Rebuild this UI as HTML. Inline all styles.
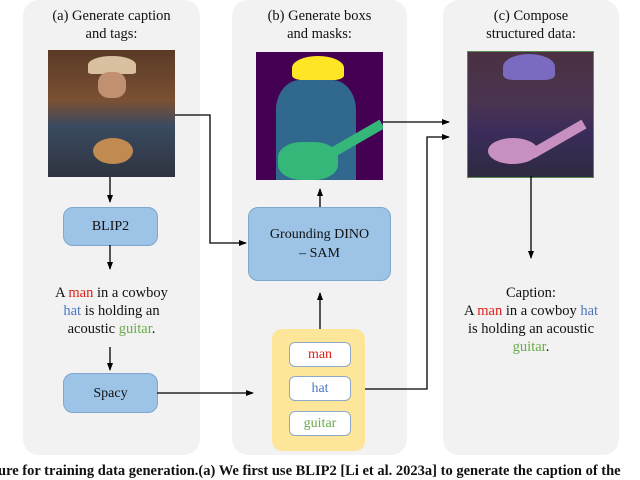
<!DOCTYPE html>
<html><head><style>
body{margin:0;width:640px;height:478px;background:#fff;position:relative;overflow:hidden;font-family:"Liberation Serif",serif;}
.p{position:absolute;background:#f2f2f2;border-radius:16px;top:0px;height:455px;}
.t{position:absolute;text-align:center;font-size:14.5px;line-height:18px;color:#111;}
.bx{position:absolute;background:#9dc3e6;border:1px solid #7ea6d0;border-radius:10px;display:flex;align-items:center;justify-content:center;text-align:center;font-size:14px;color:#111;line-height:19px;}
.tag{position:absolute;left:289px;width:60px;height:23px;background:#fff;border:1px solid #8da8c8;border-radius:6px;text-align:center;line-height:23px;font-size:14px;}
.r{color:#e0201a}.b{color:#4a78c0}.g{color:#6aab4a}
</style></head><body>
<div class="p" style="left:23px;width:177px"></div>
<div class="p" style="left:232px;width:175px"></div>
<div class="p" style="left:443px;width:176px"></div>
<div class="t" style="left:23px;width:177px;top:7px">(a) Generate caption<br>and tags:</div>
<div class="t" style="left:232px;width:175px;top:7px">(b) Generate boxs<br>and masks:</div>
<div class="t" style="left:443px;width:176px;top:7px">(c) Compose<br>structured data:</div>

<div style="position:absolute;left:48px;top:50px;width:127px;height:127px;background:linear-gradient(180deg,#5a3a26 0%,#7a5034 40%,#3a4a60 60%,#2e3440 100%)">
 <div style="position:absolute;left:40px;top:6px;width:48px;height:18px;background:#d8c0a0;border-radius:50% 50% 10% 10%"></div>
 <div style="position:absolute;left:50px;top:22px;width:28px;height:26px;background:#c09070;border-radius:40%"></div>
 <div style="position:absolute;left:45px;top:88px;width:40px;height:26px;background:#c08a50;border-radius:50%"></div>
</div>
<div style="position:absolute;left:256px;top:52px;width:127px;height:128px;background:#440154;overflow:hidden">
 <div style="position:absolute;left:36px;top:4px;width:52px;height:24px;background:#fde725;border-radius:50% 50% 20% 20%"></div>
 <div style="position:absolute;left:20px;top:28px;width:80px;height:100px;background:#31688e;border-radius:30% 30% 0 0"></div>
 <div style="position:absolute;left:22px;top:90px;width:60px;height:38px;background:#35b779;border-radius:40%"></div>
 <div style="position:absolute;left:70px;top:82px;width:60px;height:10px;background:#35b779;transform:rotate(-30deg)"></div>
</div>
<div style="position:absolute;left:467px;top:51px;width:125px;height:125px;background:linear-gradient(180deg,#4a3040 0%,#4a3450 40%,#3a2c5a 65%,#2e2a40 100%);border:1px solid #5a8a50">
 <div style="position:absolute;left:35px;top:2px;width:52px;height:26px;background:#7a6ac0;border-radius:50% 50% 20% 20%"></div>
 <div style="position:absolute;left:20px;top:86px;width:50px;height:26px;background:#c890c0;border-radius:50%"></div>
 <div style="position:absolute;left:60px;top:82px;width:60px;height:10px;background:#c890c0;transform:rotate(-30deg)"></div>
</div>

<div class="bx" style="left:63px;top:207px;width:93px;height:37px">BLIP2</div>
<div class="bx" style="left:63px;top:373px;width:93px;height:38px">Spacy</div>
<div class="bx" style="left:248px;top:207px;width:141px;height:72px">Grounding DINO<br>– SAM</div>
<div style="position:absolute;left:272px;top:329px;width:93px;height:122px;background:#fde59a;border-radius:10px"></div>
<div class="tag r" style="top:342px">man</div>
<div class="tag b" style="top:376px">hat</div>
<div class="tag g" style="top:411px">guitar</div>

<div class="t" style="left:23px;width:177px;top:284px">A <span class="r">man</span> in a cowboy<br><span class="b">hat</span> is holding an<br>acoustic <span class="g">guitar</span>.</div>
<div class="t" style="left:443px;width:176px;top:284px">Caption:<br>A <span class="r">man</span> in a cowboy <span class="b">hat</span><br>is holding an acoustic<br><span class="g">guitar</span>.</div>

<svg style="position:absolute;left:0;top:0" width="640" height="478">
<defs><marker id="a" markerWidth="8" markerHeight="8" refX="7" refY="4" orient="auto" markerUnits="userSpaceOnUse"><path d="M0,1L8,4L0,7z" fill="#000"/></marker></defs>
<g stroke="#000" stroke-width="1.3" fill="none">
<path d="M110,177V202" marker-end="url(#a)"/>
<path d="M110,245V269" marker-end="url(#a)"/>
<path d="M110,347V370" marker-end="url(#a)"/>
<path d="M157,393H253" marker-end="url(#a)"/>
<path d="M175,115H210V243H246" marker-end="url(#a)"/>
<path d="M320,207V189" marker-end="url(#a)"/>
<path d="M320,329V293" marker-end="url(#a)"/>
<path d="M383,122H449" marker-end="url(#a)"/>
<path d="M365,389H427V137H449" marker-end="url(#a)"/>
<path d="M531,176V258" marker-end="url(#a)"/>
</g></svg>
<div style="position:absolute;left:-2px;top:463px;white-space:nowrap;font-weight:bold;font-size:14.5px;color:#111">ure for training data generation.(a) We first use BLIP2 [Li et al. 2023a] to generate the caption of the</div>
</body></html>
